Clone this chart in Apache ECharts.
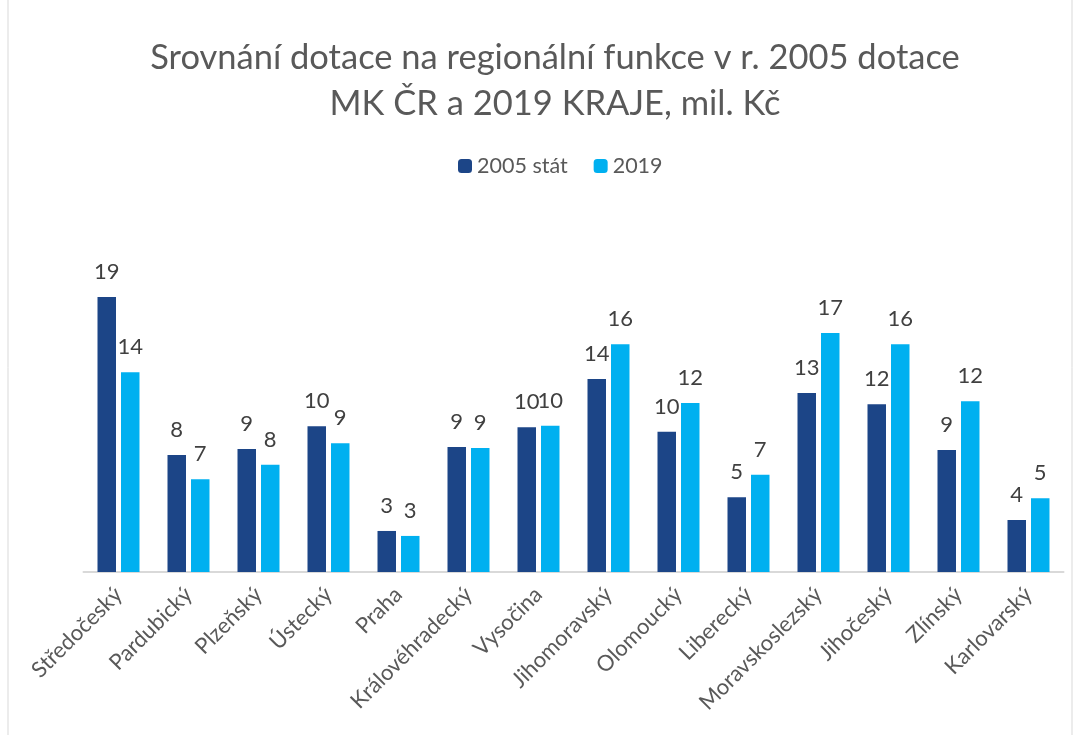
<!DOCTYPE html>
<html>
<head>
<meta charset="utf-8">
<script src="https://cdn.jsdelivr.net/npm/echarts@6/dist/echarts.min.js"></script>
<style>
  html, body { margin: 0; padding: 0; background: #fff; }
  #chart { width: 1080px; height: 735px; }
</style>
</head>
<body>
<div id="chart"></div>
<script>
  // kraje
  const regions = ['Středočeský', 'Pardubický', 'Plzeňský', 'Ústecký', 'Praha', 'Královéhradecký',
    'Vysočina', 'Jihomoravský', 'Olomoucký', 'Liberecký', 'Moravskoslezský', 'Jihočeský', 'Zlínský', 'Karlovarský'];
  const stat2005 = [19.37, 8.24, 8.66, 10.26, 2.89, 8.80, 10.19, 13.59, 9.88, 5.26, 12.61, 11.81, 8.59, 3.66];
  const kraje2019 = [14.06, 6.53, 7.56, 9.06, 2.54, 8.73, 10.30, 16.03, 11.90, 6.85, 16.83, 16.03, 12.02, 5.19];

  const font = 'Lato, "Noto Sans", sans-serif';
  const myChart = echarts.init(document.getElementById('chart'));

  const label = {
    show: true,
    position: 'top',
    distance: 14,
    color: '#404040',
    fontSize: 22,
    fontFamily: font,
    formatter: p => Math.round(p.value)
  };

  myChart.setOption({
    title: {
      text: 'Srovnání dotace na regionální funkce v r. 2005 dotace\nMK ČR a 2019 KRAJE, mil. Kč',
      left: 550,
      textAlign: 'center',
      top: 30,
      textStyle: {
        color: '#595959',
        fontSize: 34.5,
        fontWeight: 'normal',
        fontFamily: font,
        lineHeight: 46
      }
    },
    legend: {
      top: 150,
      left: 453,
      itemWidth: 14,
      itemHeight: 14,
      itemGap: 26,
      textStyle: { color: '#595959', fontSize: 21.5, fontFamily: font }
    },
    graphic: [{
      type: 'rect',
      shape: { x: 8, y: -2, width: 1064, height: 739 },
      style: { fill: 'none', stroke: '#d9d9d9', lineWidth: 1 },
      silent: true
    }],
    grid: {
      left: 83.5,
      right: 16.5,
      top: 288,
      bottom: 163
    },
    xAxis: {
      type: 'category',
      data: regions,
      axisLine: { lineStyle: { color: '#d9d9d9', width: 2 } },
      axisTick: { show: false },
      axisLabel: {
        rotate: 45,
        interval: 0,
        margin: 19,
        color: '#595959',
        fontSize: 22,
        fontFamily: font
      }
    },
    yAxis: {
      type: 'value',
      min: 0,
      max: 20,
      show: false
    },
    series: [
      {
        type: 'bar',
        name: '2005 stát',
        data: stat2005,
        barWidth: 18.5,
        barGap: '27%',
        itemStyle: { color: '#1c4587' },
        label: label
      },
      {
        type: 'bar',
        name: '2019',
        data: kraje2019,
        barWidth: 18.5,
        itemStyle: { color: '#00b0f0' },
        label: label
      }
    ]
  });
</script>
</body>
</html>
